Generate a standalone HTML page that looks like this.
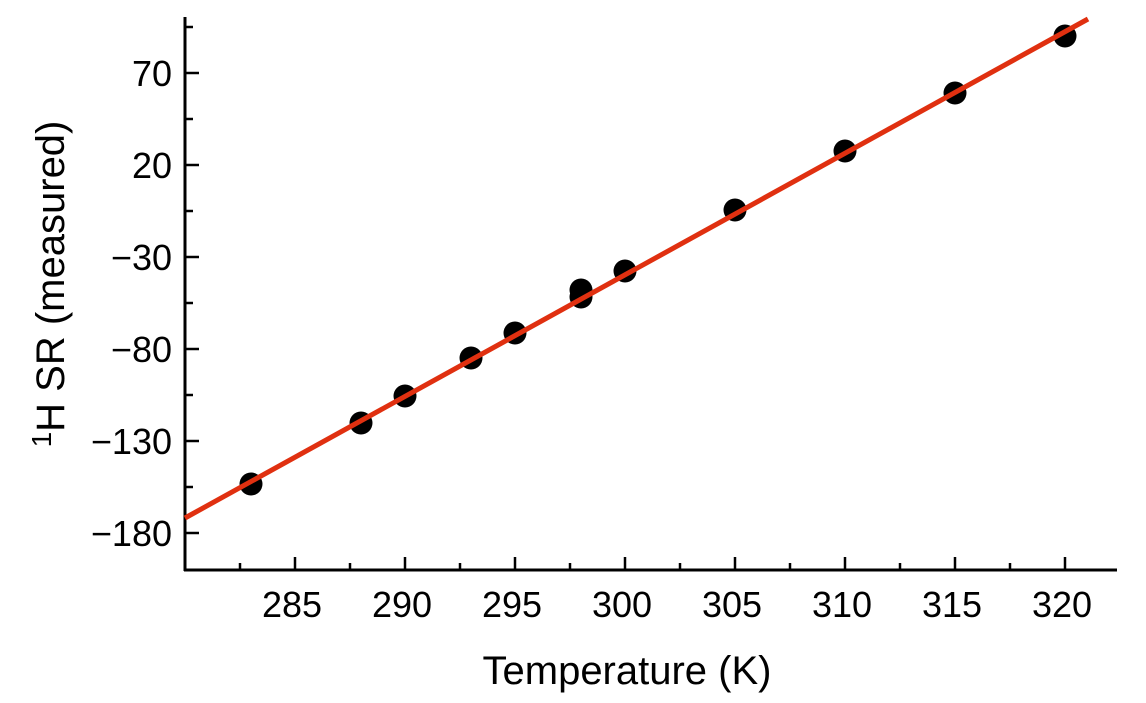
<!DOCTYPE html>
<html><head><meta charset="utf-8"><style>body{margin:0;background:#fff}</style></head><body>
<svg width="1146" height="698" xmlns="http://www.w3.org/2000/svg" font-family="Liberation Sans, sans-serif">
<g stroke="#000" stroke-width="3">
<line x1="185" y1="17" x2="185" y2="571"/>
<line x1="184" y1="570" x2="1117" y2="570"/>
</g>
<g stroke="#000" stroke-width="2.5">
<line x1="185" y1="73" x2="199" y2="73"/><line x1="185" y1="165" x2="199" y2="165"/>
<line x1="185" y1="257" x2="199" y2="257"/><line x1="185" y1="349" x2="199" y2="349"/>
<line x1="185" y1="441" x2="199" y2="441"/><line x1="185" y1="533" x2="199" y2="533"/>
<line x1="185" y1="27" x2="193" y2="27"/><line x1="185" y1="119" x2="193" y2="119"/>
<line x1="185" y1="211" x2="193" y2="211"/><line x1="185" y1="303" x2="193" y2="303"/>
<line x1="185" y1="395" x2="193" y2="395"/><line x1="185" y1="487" x2="193" y2="487"/>
<line x1="295" y1="557" x2="295" y2="570"/><line x1="405" y1="557" x2="405" y2="570"/>
<line x1="515" y1="557" x2="515" y2="570"/><line x1="625" y1="557" x2="625" y2="570"/>
<line x1="735" y1="557" x2="735" y2="570"/><line x1="845" y1="557" x2="845" y2="570"/>
<line x1="955" y1="557" x2="955" y2="570"/><line x1="1065" y1="557" x2="1065" y2="570"/>
<line x1="240" y1="563" x2="240" y2="570"/><line x1="350" y1="563" x2="350" y2="570"/>
<line x1="460" y1="563" x2="460" y2="570"/><line x1="570" y1="563" x2="570" y2="570"/>
<line x1="680" y1="563" x2="680" y2="570"/><line x1="790" y1="563" x2="790" y2="570"/>
<line x1="900" y1="563" x2="900" y2="570"/><line x1="1010" y1="563" x2="1010" y2="570"/>
</g>
<g font-size="36" text-anchor="end" fill="#000">
<text x="172" y="86">70</text><text x="172" y="178">20</text>
<text x="172" y="270">−30</text><text x="172" y="362">−80</text>
<text x="172" y="454">−130</text><text x="172" y="546">−180</text>
</g>
<g font-size="36" text-anchor="middle" fill="#000">
<text x="292" y="617">285</text><text x="402" y="617">290</text><text x="512" y="617">295</text>
<text x="622" y="617">300</text><text x="732" y="617">305</text><text x="842" y="617">310</text>
<text x="952" y="617">315</text><text x="1062" y="617">320</text>
</g>
<text x="627" y="684" font-size="40" text-anchor="middle">Temperature (K)</text>
<text transform="translate(64,284) rotate(-90)" font-size="40" text-anchor="middle"><tspan font-size="28" dy="-13">1</tspan><tspan dy="13">H SR (measured)</tspan></text>
<g fill="#000">
<circle cx="251" cy="484" r="11.5"/><circle cx="361" cy="423" r="11.5"/><circle cx="405" cy="396" r="11.5"/>
<circle cx="471" cy="358" r="11.5"/><circle cx="515" cy="333" r="11.5"/><circle cx="581" cy="290" r="11.5"/>
<circle cx="581" cy="297" r="11.5"/><circle cx="625" cy="271" r="11.5"/><circle cx="735" cy="210" r="11.5"/>
<circle cx="845" cy="151" r="11.5"/><circle cx="955" cy="93" r="11.5"/><circle cx="1065" cy="36" r="11.5"/>
</g>
<line x1="185" y1="518" x2="1088" y2="19" stroke="#e03010" stroke-width="5"/>
</svg>
</body></html>
